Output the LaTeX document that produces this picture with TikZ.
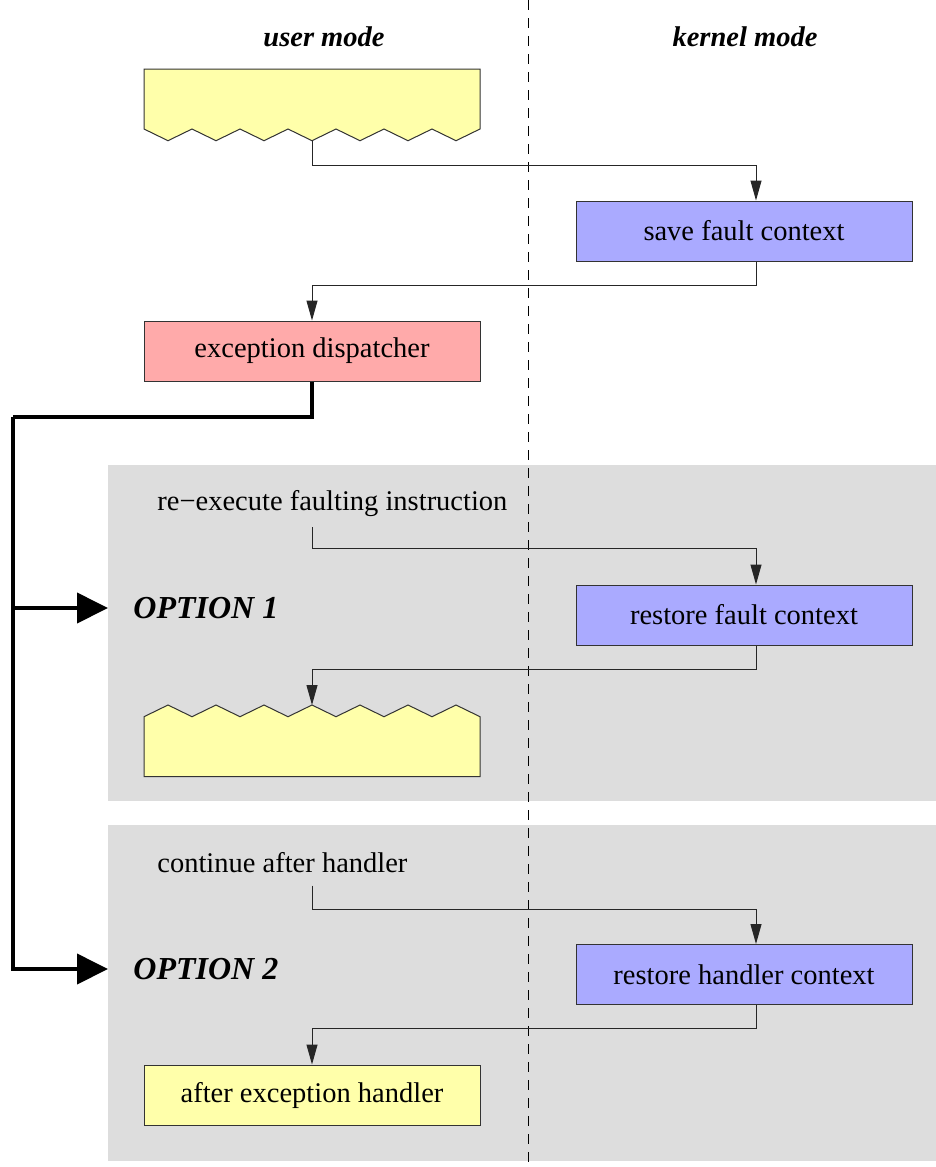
\documentclass[tikz,border=0pt]{standalone}
\usepackage{fontspec}
\setmainfont{Liberation Serif}
\usetikzlibrary{arrows.meta}
\definecolor{uyellow}{HTML}{FFFFAA}
\definecolor{kblue}{HTML}{AAAAFF}
\definecolor{dpink}{HTML}{FFAAAA}
\definecolor{optgray}{HTML}{DDDDDD}
\begin{document}
\begin{tikzpicture}[x=0.5pt,y=-0.5pt,
  txt/.style={font=\fontsize{14.25}{17}\selectfont, inner sep=0pt},
  title/.style={font=\fontsize{14.25}{17}\selectfont\bfseries\itshape, inner sep=0pt},
  opttxt/.style={font=\fontsize{16}{19}\selectfont\bfseries\itshape, inner sep=0pt, anchor=west},
  box/.style={draw=black!80, line width=0.5pt, minimum width=168pt, minimum height=30pt, inner sep=0pt, font=\fontsize{14.25}{17}\selectfont},
  shapeline/.style={draw=black!80, line width=0.5pt, line join=miter},
  conn/.style={line width=0.5pt, draw=black!85, -{Triangle[length=10pt,width=5.5pt]}},
  bigarrow/.style={line width=2pt, -{Triangle[length=15.5pt,width=15pt]}},
  bigline/.style={line width=2pt, line join=miter},
  dashline/.style={line width=0.5pt, dash pattern=on 5pt off 4pt},
  graybg/.style={fill=optgray}
]
\useasboundingbox (0,0) rectangle (936,1167);
% gray option backgrounds
\fill[graybg] (108,465) rectangle (936,800.7);
\fill[graybg] (108,825) rectangle (936,1161);
% mode separator
\coordinate (dtop) at (528,0);
\coordinate (dbot) at (528,1167);
\draw[dashline] (dtop) -- (dbot);
% titles
\node[title] (umode) at (324,37) {user mode};
\node[title] (kmode) at (745,37) {kernel mode};
% top user code (torn bottom)
\draw[shapeline, fill=uyellow] (144,69) -- (480,69) -- (480,129)
  \foreach \i in {0,...,6} { -- ({456-48*\i},140.7) -- ({432-48*\i},129) } -- cycle;
\coordinate (z1) at (312,140.7);
% boxes
\node[box, fill=kblue] (sfc) at (744,231) {save fault context};
\node[box, fill=dpink] (disp) at (312,351) {exception dispatcher};
\node[box, fill=kblue] (rfc) at (744,615) {restore fault context};
\node[box, fill=kblue] (rhc) at (744,974.5) {restore handler context};
\node[box, fill=uyellow] (aeh) at (312,1095) {after exception handler};
% bottom user code of option 1 (torn top)
\draw[shapeline, fill=uyellow] (144,776.7) -- (480,776.7) -- (480,716.7)
  \foreach \i in {0,...,6} { -- ({456-48*\i},705) -- ({432-48*\i},716.7) } -- cycle;
\coordinate (z2) at (312,705);
% option texts
\node[txt, anchor=west] (reexec) at (157,504) {re\char"2212 execute faulting instruction};
\node[txt, anchor=west] (cont) at (157,863) {continue after handler};
\node[opttxt] (opt1) at (133,608) {OPTION 1};
\node[opttxt] (opt2) at (133,969) {OPTION 2};
\coordinate (reexecs) at (312,527);
\coordinate (conts) at (312,885.7);
% connectors (kernel boxes are entered/left slightly right of centre)
\draw[conn] (z1) -- ++(0,24.3) -| ([xshift=6pt]sfc.north);
\draw[conn] ([xshift=6pt]sfc.south) -- ++(0,24) -| (disp.north);
\draw[conn] (reexecs) -- ++(0,21.7) -| ([xshift=6pt]rfc.north);
\draw[conn] ([xshift=6pt]rfc.south) -- ++(0,24) -| (z2);
\draw[conn] (conts) -- ++(0,23.3) -| ([xshift=6pt]rhc.north);
\draw[conn] ([xshift=6pt]rhc.south) -- ++(0,23.7) -| (aeh.north);
% thick dispatch arrows
\coordinate (bend) at (13,416.7);
\coordinate (branch) at (13,608);
\coordinate (g1w) at (108,608);
\coordinate (g2w) at (108,969);
\draw[bigline] (disp.south) |- (bend);
\draw[bigarrow] (bend) |- (g2w);
\draw[bigarrow] (branch) -- (g1w);
\end{tikzpicture}
\end{document}
